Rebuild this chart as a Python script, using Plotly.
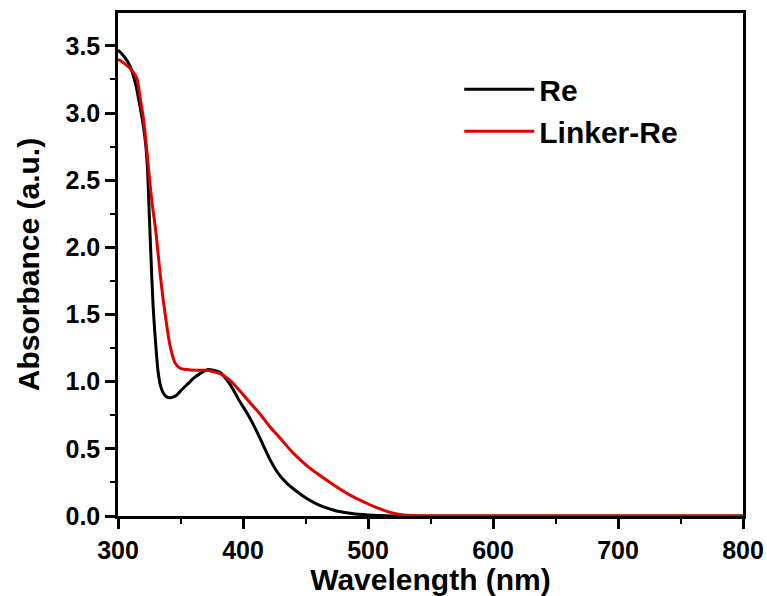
import plotly.graph_objects as go

# Data
re_wl = [300, 305, 309.6, 314, 317.6, 320, 322, 323.5, 325, 326.5, 328, 330, 332, 334, 336, 338.5,
         341.6, 344, 347, 351, 356, 361, 365.6, 372, 376, 381.6, 389.6, 397.6, 403, 411, 416, 421.6,
         428, 435, 442, 451, 460, 472, 485.6, 500, 520, 560, 800]
re_abs = [3.47, 3.42, 3.35, 3.22, 3.05, 2.92, 2.78, 2.60, 2.25, 1.90, 1.58, 1.30, 1.08, 0.97, 0.92, 0.89,
          0.88, 0.885, 0.90, 0.94, 0.985, 1.03, 1.06, 1.09, 1.085, 1.07, 0.98, 0.85, 0.77, 0.63, 0.53, 0.42,
          0.32, 0.245, 0.19, 0.13, 0.085, 0.045, 0.02, 0.007, 0.0, 0.0, 0.0]

lr_wl = [300, 305, 310, 315, 317.6, 320, 322, 324.5, 327, 330, 332, 334, 336, 339, 341.6, 345.6,
         349.6, 355, 363, 371, 376, 381.6, 389.6, 397.6, 405, 413.6, 421, 429.6, 440, 451, 461, 472,
         485.6, 499, 508, 517.6, 527, 536, 560, 800]
lr_abs = [3.40, 3.37, 3.33, 3.26, 3.12, 2.98, 2.82, 2.58, 2.35, 2.14, 1.96, 1.78, 1.62, 1.42, 1.27, 1.14,
          1.10, 1.09, 1.085, 1.085, 1.075, 1.06, 1.01, 0.93, 0.85, 0.76, 0.67, 0.58, 0.47, 0.375, 0.305, 0.235,
          0.155, 0.095, 0.058, 0.027, 0.01, 0.004, 0.0, 0.0]

series_names = ["Re", "Linker-Re"]
series_colors = ["#000000", "#e00000"]

x_ticks = [300, 400, 500, 600, 700, 800]
y_ticks = [0.0, 0.5, 1.0, 1.5, 2.0, 2.5, 3.0, 3.5]

FONT = "Arial, 'Liberation Sans', sans-serif"

fig = go.Figure()
for name, wl, ab, col, grp in [(series_names[0], re_wl, re_abs, series_colors[0], "a"),
                               (series_names[1], lr_wl, lr_abs, series_colors[1], "b")]:
    fig.add_trace(go.Scatter(x=wl, y=ab, mode="lines", name=name, legendgroup=grp,
                             line=dict(color=col, width=3, shape="spline", smoothing=0.8)))

axis_common = dict(
    showline=True, linecolor="black", linewidth=2.5, mirror=True,
    ticks="outside", ticklen=10, tickwidth=2.5, tickcolor="black",
    showgrid=False, zeroline=False, automargin=False,
    tickfont=dict(family=FONT, size=25, color="black", weight="bold"),
)

fig.update_xaxes(
    range=[300, 800], tickvals=x_ticks, ticktext=[str(v) for v in x_ticks],
    minor=dict(ticks="outside", ticklen=5, tickwidth=2, tickcolor="black", dtick=50, tick0=300),
    title=dict(text="Wavelength (nm)", font=dict(family=FONT, size=30, color="black", weight="bold"), standoff=2),
    **axis_common,
)
fig.update_yaxes(
    range=[0, 3.745], tickvals=y_ticks, ticktext=[f"{v:.1f}" for v in y_ticks],
    minor=dict(ticks="outside", ticklen=5, tickwidth=2, tickcolor="black", dtick=0.25, tick0=0),
    title=dict(text="Absorbance (a.u.)", font=dict(family=FONT, size=30, color="black", weight="bold"), standoff=17),
    **axis_common,
)

fig.update_layout(
    width=767, height=596,
    margin=dict(l=118, r=24, t=13, b=80),
    paper_bgcolor="white", plot_bgcolor="white",
    showlegend=True,
    legend=dict(x=0.546, y=0.9, xanchor="left", yanchor="top",
                bgcolor="rgba(0,0,0,0)", borderwidth=0,
                font=dict(family=FONT, size=30, color="black", weight="bold"),
                tracegroupgap=0, itemwidth=70),
)

fig.write_html("out.html")
